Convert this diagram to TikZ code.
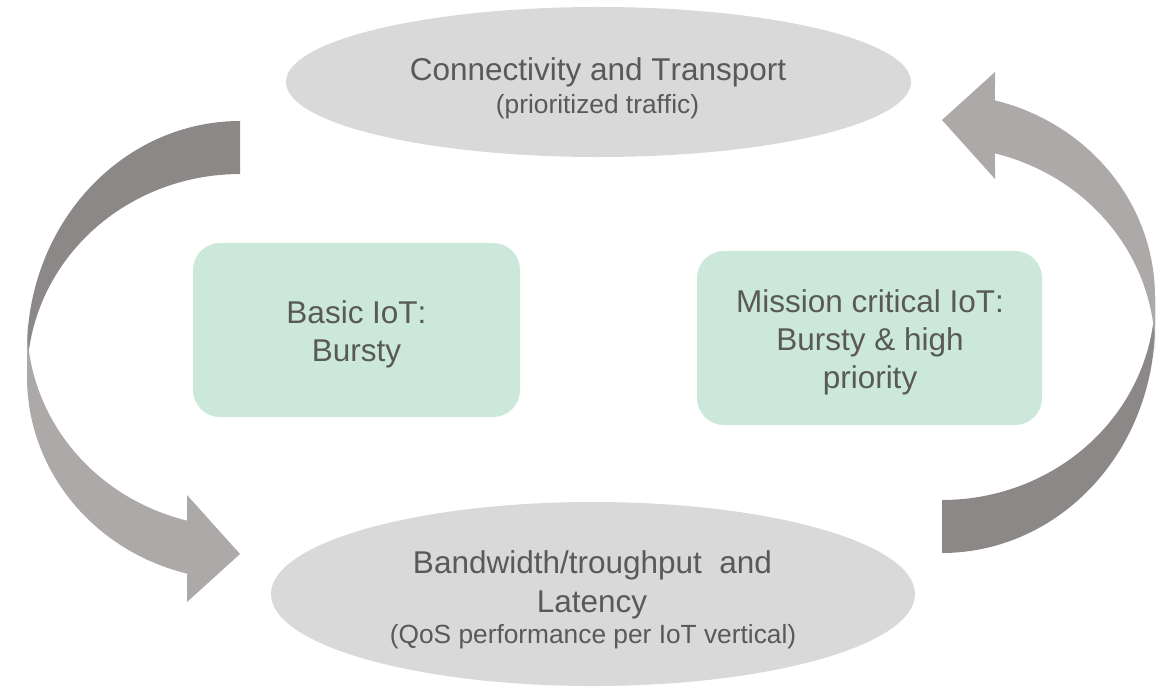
\documentclass[tikz,border=0pt]{standalone}
\usepackage{fontspec}
\setmainfont[Kerning=Off]{Liberation Sans}
\usetikzlibrary{shapes.geometric}

\definecolor{ovalgray}{HTML}{D9D9D9}
\definecolor{boxgreen}{HTML}{CCE8DA}
\definecolor{textgray}{HTML}{595959}
\definecolor{arrowdark}{HTML}{8B8887}
\definecolor{arrowlight}{HTML}{ADA9A8}

\begin{document}
\begin{tikzpicture}[x=1pt,y=-1pt,
  oval/.style={ellipse, fill=ovalgray, draw=none, inner sep=0pt},
  card/.style={rectangle, rounded corners=27pt, fill=boxgreen, draw=none, inner sep=0pt},
  textline/.style={anchor=base, text=textgray, inner sep=0pt},
  fbig/.style={font=\fontsize{31.5}{37}\selectfont},
  fsmall/.style={font=\fontsize{26.3}{31}\selectfont},
  % twisted ribbon arrow: dark back half (tail), light front half (head)
  twistarrow/.pic={
    \fill[arrowdark]
      plot[domain=90:180,samples=60] ({240+213*cos(\x)},{350-229*sin(\x)})
      -- (27,377)
      -- plot[domain=180:90,samples=60] ({240+213*cos(\x)},{377-203*sin(\x)})
      -- cycle;
    \fill[arrowlight]
      plot[domain=180:255.6,samples=60] ({240+213*cos(\x)},{324-203*sin(\x)})
      -- (187,495) -- (240,554) -- (187,602)
      -- plot[domain=255.6:180,samples=60] ({240+213*cos(\x)},{377-203*sin(\x)})
      -- cycle;
  }
]
\useasboundingbox (0,0) rectangle (1158,693);
\fill[white] (0,0) rectangle (1158,693);

% the two stages
\node[oval, minimum width=625pt, minimum height=150pt] (transport) at (598.5,82) {};
\node[oval, minimum width=644pt, minimum height=184pt] (bandwidth) at (593,594) {};

\node[textline, font=\fontsize{31.5}{37}\selectfont] (transportA) at (598,80) {Connectivity and Transport};
\node[textline, fsmall] (transportB) at (597.5,113) {(prioritized traffic)};

\node[textline, fbig] (bandwidthA) at (592.5,573) {Bandwidth/troughput\ \ and};
\node[textline, fbig] (bandwidthB) at (592,612) {Latency};
\node[textline, fsmall] (bandwidthC) at (593,643) {(QoS performance per IoT vertical)};

% the two IoT classes
\node[card, minimum width=327pt, minimum height=174pt] (basic) at (356.5,330) {};
\node[card, minimum width=345pt, minimum height=174pt] (mission) at (869.5,338) {};

\node[textline, fbig] (basicA) at (356.5,323) {Basic IoT:};
\node[textline, fbig] (basicB) at (356.5,361) {Bursty};

\node[textline, fbig] (missionA) at (870,312) {Mission critical IoT:};
\node[textline, fbig] (missionB) at (870,350) {Bursty \& high};
\node[textline, fbig] (missionC) at (870,388) {priority};

% cycle arrows
\pic at (0,0) {twistarrow};
\pic[rotate=180] at (1182,674) {twistarrow};
\end{tikzpicture}
\end{document}
